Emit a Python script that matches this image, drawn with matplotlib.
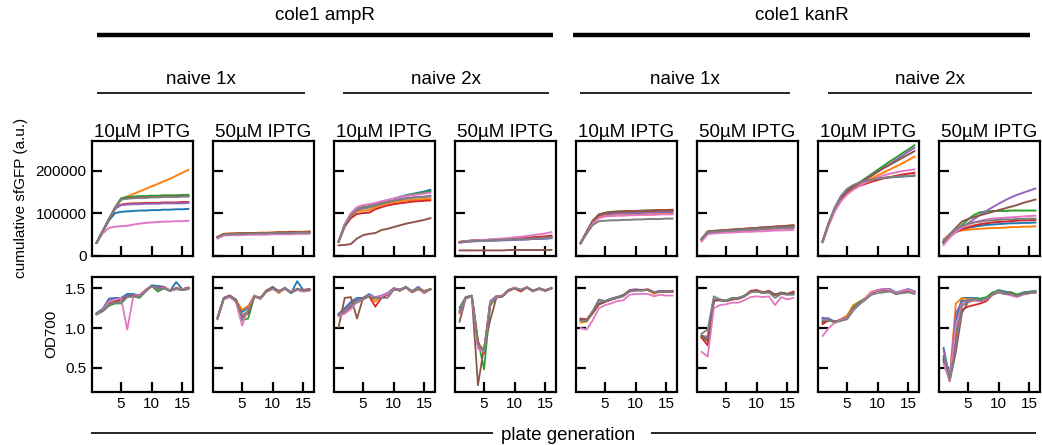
import matplotlib
matplotlib.use('Agg')
import matplotlib.pyplot as plt
from matplotlib.lines import Line2D

plt.rcParams['font.family'] = ['Liberation Sans', 'DejaVu Sans']

generations = list(range(1, 17))
colors = ['tab:blue', 'tab:orange', 'tab:green', 'tab:red',
          'tab:purple', 'tab:brown', 'tab:pink', 'tab:gray']

plasmids = ['cole1 ampR', 'cole1 kanR']
naive_levels = ['naive 1x', 'naive 2x']
iptg_levels = ['10µM IPTG', '50µM IPTG']

# cumulative sfGFP in thousands of a.u., one row per replicate
gfp_amp_1x_10 = [
    [30, 56, 82, 100, 103, 104, 105, 106, 106, 107, 107, 108, 108, 109, 109, 110],
    [30, 57, 84, 111, 133, 139, 145, 151, 157, 163, 169, 175, 181, 188, 195, 202],
    [30, 58, 86, 113, 135, 138, 139, 140, 140, 141, 141, 142, 142, 142, 143, 143],
    [30, 57, 84, 110, 120, 122, 123, 123, 124, 124, 124, 125, 125, 125, 126, 126],
    [30, 57, 84, 110, 119, 120, 121, 121, 122, 122, 122, 123, 123, 123, 123, 124],
    [30, 57, 85, 112, 132, 135, 136, 137, 137, 138, 138, 139, 139, 139, 140, 140],
    [30, 52, 65, 68, 69, 70, 73, 75, 77, 78, 79, 80, 80, 81, 81, 82],
    [30, 57, 85, 112, 132, 134, 135, 136, 136, 137, 137, 138, 138, 138, 139, 139],
]
gfp_amp_1x_50 = [
    [43, 50, 50, 51, 51, 51, 52, 52, 52, 53, 53, 53, 54, 54, 54, 55],
    [44, 51, 52, 52, 53, 53, 53, 54, 54, 54, 55, 55, 56, 56, 56, 57],
    [43, 50, 51, 51, 52, 52, 52, 53, 53, 53, 54, 54, 54, 55, 55, 55],
    [44, 51, 51, 52, 52, 52, 53, 53, 53, 54, 54, 54, 55, 55, 55, 56],
    [42, 49, 50, 50, 50, 51, 51, 51, 52, 52, 52, 53, 53, 53, 53, 54],
    [43, 50, 51, 51, 52, 52, 52, 53, 53, 53, 54, 54, 54, 55, 55, 55],
    [40, 47, 48, 48, 48, 49, 49, 49, 49, 50, 50, 50, 50, 51, 51, 51],
    [43, 50, 50, 51, 51, 51, 52, 52, 52, 53, 53, 53, 53, 54, 54, 54],
]
gfp_amp_2x_10 = [
    [33, 72, 96, 110, 114, 116, 121, 126, 130, 134, 138, 142, 145, 148, 151, 155],
    [33, 70, 92, 104, 106, 107, 114, 119, 123, 126, 128, 130, 131, 132, 133, 134],
    [33, 72, 96, 110, 114, 116, 121, 125, 129, 133, 137, 141, 144, 146, 149, 151],
    [32, 68, 88, 98, 100, 101, 109, 114, 118, 121, 123, 125, 127, 128, 129, 130],
    [33, 71, 95, 108, 112, 114, 119, 123, 127, 130, 133, 135, 137, 138, 139, 141],
    [24, 25, 27, 40, 48, 51, 53, 60, 63, 67, 71, 75, 78, 81, 84, 88],
    [33, 74, 100, 114, 119, 121, 124, 128, 131, 134, 137, 140, 142, 144, 146, 148],
    [33, 71, 94, 107, 111, 113, 118, 122, 126, 129, 132, 134, 136, 137, 138, 139],
]
gfp_amp_2x_50 = [
    [31, 33, 34, 34, 35, 35, 36, 36, 37, 37, 38, 38, 39, 39, 40, 41],
    [32, 34, 35, 35, 36, 36, 37, 37, 38, 38, 39, 40, 40, 41, 42, 43],
    [32, 34, 35, 35, 36, 37, 37, 38, 39, 39, 40, 41, 42, 43, 44, 45],
    [32, 34, 35, 36, 36, 37, 38, 38, 39, 40, 41, 42, 43, 44, 45, 47],
    [30, 32, 33, 34, 34, 35, 35, 36, 36, 37, 37, 38, 39, 39, 40, 41],
    [12, 12, 12, 12, 12, 12, 12, 12, 13, 13, 13, 13, 13, 13, 13, 13],
    [31, 34, 35, 36, 37, 38, 39, 40, 41, 43, 44, 46, 48, 50, 52, 55],
    [31, 33, 34, 35, 35, 36, 36, 37, 38, 38, 39, 40, 40, 41, 42, 43],
]
gfp_kan_1x_10 = [
    [29, 55, 80, 94, 97, 98, 99, 99, 100, 100, 100, 101, 101, 101, 102, 102],
    [29, 54, 78, 90, 93, 94, 95, 95, 96, 96, 97, 97, 97, 98, 98, 98],
    [29, 56, 82, 97, 101, 103, 104, 104, 105, 105, 106, 106, 107, 107, 107, 108],
    [29, 56, 82, 96, 100, 102, 103, 104, 104, 105, 105, 106, 106, 107, 107, 107],
    [29, 55, 80, 95, 98, 99, 100, 100, 101, 101, 102, 102, 102, 103, 103, 103],
    [29, 56, 81, 96, 100, 102, 103, 103, 104, 104, 105, 105, 105, 106, 106, 106],
    [28, 53, 76, 88, 92, 93, 94, 94, 95, 95, 96, 96, 96, 97, 97, 97],
    [29, 52, 72, 81, 82, 83, 83, 84, 84, 85, 85, 86, 86, 86, 87, 87],
]
gfp_kan_1x_50 = [
    [37, 54, 55, 56, 57, 58, 59, 60, 60, 61, 62, 63, 64, 64, 65, 66],
    [36, 53, 54, 55, 56, 57, 58, 59, 60, 61, 62, 62, 63, 64, 65, 66],
    [38, 55, 57, 58, 59, 60, 61, 62, 63, 64, 65, 66, 67, 67, 68, 69],
    [39, 56, 58, 59, 60, 61, 62, 63, 64, 65, 66, 67, 68, 69, 70, 71],
    [37, 54, 55, 56, 57, 58, 59, 60, 61, 61, 62, 63, 64, 65, 65, 66],
    [39, 57, 58, 59, 60, 61, 62, 63, 64, 65, 66, 67, 68, 69, 70, 71],
    [33, 50, 52, 53, 54, 54, 55, 56, 56, 57, 57, 58, 59, 59, 60, 60],
    [38, 55, 56, 57, 58, 59, 60, 61, 62, 62, 63, 64, 65, 66, 66, 67],
]
gfp_kan_2x_10 = [
    [33, 77, 113, 140, 156, 165, 171, 175, 178, 181, 183, 184, 185, 186, 187, 188],
    [33, 75, 110, 136, 152, 161, 168, 175, 182, 189, 196, 203, 210, 217, 225, 233],
    [33, 75, 110, 136, 152, 163, 172, 182, 192, 202, 212, 222, 231, 241, 250, 260],
    [32, 73, 107, 132, 148, 157, 164, 169, 174, 178, 182, 185, 188, 191, 193, 195],
    [33, 75, 110, 136, 152, 162, 171, 180, 189, 198, 207, 216, 226, 235, 245, 254],
    [33, 75, 110, 136, 152, 162, 171, 180, 188, 197, 206, 214, 222, 230, 238, 246],
    [31, 71, 104, 128, 144, 155, 164, 172, 178, 184, 189, 193, 196, 199, 201, 203],
    [33, 77, 113, 140, 157, 166, 172, 176, 179, 181, 183, 185, 186, 187, 188, 189],
]
gfp_kan_2x_50 = [
    [33, 48, 56, 61, 65, 68, 70, 72, 73, 74, 75, 76, 76, 77, 77, 78],
    [38, 50, 56, 59, 61, 62, 63, 64, 65, 65, 66, 67, 67, 68, 68, 69],
    [33, 45, 58, 72, 85, 96, 102, 104, 105, 105, 105, 106, 106, 106, 106, 106],
    [30, 45, 55, 62, 67, 71, 74, 76, 78, 79, 80, 81, 82, 83, 83, 84],
    [30, 45, 55, 66, 76, 86, 96, 105, 114, 122, 130, 137, 143, 148, 153, 158],
    [30, 50, 65, 80, 86, 91, 95, 99, 103, 107, 111, 115, 119, 124, 128, 132],
    [25, 42, 56, 66, 73, 78, 82, 85, 87, 88, 89, 90, 91, 92, 93, 94],
    [35, 50, 62, 70, 75, 78, 80, 82, 83, 84, 85, 85, 86, 86, 87, 87],
]

# OD700 per plate generation, one row per replicate
od_amp_1x_10 = [
    [1.19, 1.24, 1.37, 1.38, 1.38, 1.43, 1.43, 1.40, 1.47, 1.54, 1.53, 1.52, 1.47, 1.58, 1.49, 1.51],
    [1.18, 1.22, 1.31, 1.34, 1.37, 1.40, 1.41, 1.41, 1.47, 1.53, 1.50, 1.51, 1.47, 1.51, 1.48, 1.50],
    [1.17, 1.21, 1.28, 1.31, 1.31, 1.39, 1.40, 1.38, 1.46, 1.53, 1.46, 1.50, 1.47, 1.49, 1.48, 1.49],
    [1.18, 1.23, 1.30, 1.33, 1.36, 1.40, 1.41, 1.41, 1.48, 1.53, 1.50, 1.52, 1.47, 1.50, 1.49, 1.51],
    [1.18, 1.23, 1.35, 1.36, 1.37, 1.41, 1.42, 1.41, 1.47, 1.53, 1.50, 1.51, 1.47, 1.50, 1.49, 1.50],
    [1.17, 1.22, 1.30, 1.33, 1.35, 1.40, 1.41, 1.40, 1.47, 1.53, 1.49, 1.51, 1.47, 1.50, 1.48, 1.50],
    [1.17, 1.22, 1.33, 1.36, 1.38, 0.98, 1.40, 1.40, 1.47, 1.53, 1.49, 1.51, 1.47, 1.49, 1.49, 1.50],
    [1.18, 1.22, 1.29, 1.32, 1.32, 1.39, 1.40, 1.39, 1.46, 1.53, 1.49, 1.50, 1.47, 1.50, 1.48, 1.50],
]
od_amp_1x_50 = [
    [1.14, 1.38, 1.41, 1.36, 1.20, 1.26, 1.40, 1.38, 1.47, 1.52, 1.46, 1.50, 1.44, 1.59, 1.48, 1.49],
    [1.13, 1.37, 1.40, 1.35, 1.23, 1.28, 1.41, 1.38, 1.48, 1.50, 1.44, 1.50, 1.45, 1.50, 1.47, 1.48],
    [1.12, 1.37, 1.40, 1.34, 1.10, 1.12, 1.40, 1.37, 1.46, 1.50, 1.46, 1.50, 1.44, 1.49, 1.47, 1.48],
    [1.13, 1.38, 1.41, 1.35, 1.16, 1.20, 1.40, 1.38, 1.47, 1.51, 1.47, 1.50, 1.45, 1.49, 1.48, 1.49],
    [1.12, 1.38, 1.40, 1.34, 1.12, 1.22, 1.41, 1.37, 1.47, 1.50, 1.46, 1.51, 1.45, 1.48, 1.47, 1.48],
    [1.12, 1.37, 1.40, 1.35, 1.14, 1.18, 1.40, 1.37, 1.47, 1.50, 1.46, 1.50, 1.45, 1.49, 1.47, 1.48],
    [1.11, 1.36, 1.39, 1.33, 1.03, 1.24, 1.41, 1.37, 1.46, 1.49, 1.46, 1.49, 1.46, 1.48, 1.46, 1.47],
    [1.12, 1.37, 1.40, 1.34, 1.15, 1.22, 1.40, 1.38, 1.46, 1.50, 1.46, 1.50, 1.45, 1.49, 1.47, 1.48],
]
od_amp_2x_10 = [
    [1.18, 1.25, 1.33, 1.38, 1.38, 1.43, 1.38, 1.40, 1.44, 1.50, 1.48, 1.51, 1.46, 1.52, 1.46, 1.49],
    [1.17, 1.22, 1.29, 1.34, 1.37, 1.41, 1.33, 1.40, 1.42, 1.50, 1.48, 1.51, 1.46, 1.50, 1.47, 1.49],
    [1.16, 1.20, 1.28, 1.32, 1.36, 1.40, 1.38, 1.40, 1.42, 1.49, 1.48, 1.52, 1.46, 1.49, 1.46, 1.49],
    [1.17, 1.20, 1.27, 1.33, 1.37, 1.40, 1.27, 1.38, 1.42, 1.49, 1.47, 1.51, 1.45, 1.49, 1.46, 1.49],
    [1.18, 1.23, 1.31, 1.36, 1.37, 1.41, 1.39, 1.41, 1.44, 1.50, 1.49, 1.51, 1.47, 1.51, 1.45, 1.49],
    [1.01, 1.38, 1.39, 1.12, 1.38, 1.40, 1.37, 1.40, 1.43, 1.50, 1.47, 1.52, 1.46, 1.50, 1.44, 1.49],
    [1.15, 1.18, 1.24, 1.33, 1.36, 1.41, 1.38, 1.40, 1.43, 1.49, 1.48, 1.51, 1.46, 1.50, 1.45, 1.49],
    [1.16, 1.21, 1.28, 1.34, 1.37, 1.40, 1.38, 1.38, 1.38, 1.48, 1.48, 1.51, 1.46, 1.50, 1.46, 1.49],
]
od_amp_2x_50 = [
    [1.22, 1.38, 1.40, 0.80, 0.72, 1.30, 1.40, 1.40, 1.48, 1.50, 1.48, 1.51, 1.47, 1.50, 1.47, 1.50],
    [1.20, 1.38, 1.41, 0.82, 0.70, 1.32, 1.40, 1.41, 1.48, 1.51, 1.48, 1.52, 1.47, 1.50, 1.47, 1.50],
    [1.26, 1.39, 1.41, 0.85, 0.48, 1.28, 1.39, 1.40, 1.48, 1.50, 1.47, 1.51, 1.46, 1.50, 1.47, 1.51],
    [1.20, 1.38, 1.40, 0.82, 0.68, 1.33, 1.40, 1.40, 1.47, 1.50, 1.46, 1.51, 1.47, 1.49, 1.47, 1.50],
    [1.22, 1.39, 1.40, 0.75, 0.72, 1.34, 1.40, 1.41, 1.48, 1.51, 1.48, 1.51, 1.47, 1.50, 1.47, 1.50],
    [1.08, 1.38, 1.40, 0.28, 0.76, 1.10, 1.38, 1.40, 1.47, 1.50, 1.48, 1.51, 1.47, 1.50, 1.48, 1.50],
    [1.18, 1.37, 1.40, 0.74, 0.70, 1.32, 1.39, 1.41, 1.48, 1.51, 1.48, 1.51, 1.47, 1.50, 1.47, 1.50],
    [1.20, 1.38, 1.40, 0.80, 0.71, 1.30, 1.40, 1.40, 1.48, 1.50, 1.48, 1.51, 1.47, 1.50, 1.47, 1.50],
]
od_kan_1x_10 = [
    [1.10, 1.10, 1.20, 1.35, 1.34, 1.37, 1.39, 1.41, 1.47, 1.48, 1.48, 1.48, 1.45, 1.47, 1.46, 1.47],
    [1.07, 1.08, 1.19, 1.30, 1.33, 1.36, 1.39, 1.41, 1.47, 1.48, 1.48, 1.48, 1.43, 1.46, 1.46, 1.46],
    [1.10, 1.09, 1.20, 1.31, 1.34, 1.37, 1.39, 1.42, 1.47, 1.48, 1.48, 1.48, 1.45, 1.46, 1.46, 1.46],
    [1.12, 1.11, 1.21, 1.30, 1.33, 1.36, 1.38, 1.41, 1.47, 1.48, 1.48, 1.49, 1.45, 1.46, 1.46, 1.46],
    [1.11, 1.10, 1.20, 1.31, 1.34, 1.37, 1.39, 1.41, 1.48, 1.49, 1.48, 1.48, 1.45, 1.47, 1.46, 1.47],
    [1.11, 1.10, 1.19, 1.30, 1.33, 1.36, 1.38, 1.41, 1.47, 1.48, 1.48, 1.48, 1.45, 1.46, 1.46, 1.46],
    [1.00, 0.98, 1.10, 1.25, 1.29, 1.31, 1.34, 1.35, 1.42, 1.43, 1.43, 1.43, 1.40, 1.42, 1.41, 1.41],
    [1.09, 1.09, 1.22, 1.36, 1.34, 1.36, 1.38, 1.40, 1.46, 1.47, 1.47, 1.48, 1.45, 1.46, 1.46, 1.46],
]
od_kan_1x_50 = [
    [0.90, 0.87, 1.36, 1.35, 1.34, 1.37, 1.38, 1.40, 1.46, 1.47, 1.45, 1.46, 1.42, 1.44, 1.43, 1.44],
    [0.88, 0.90, 1.35, 1.36, 1.34, 1.36, 1.37, 1.40, 1.45, 1.46, 1.45, 1.46, 1.41, 1.44, 1.42, 1.45],
    [0.89, 0.86, 1.35, 1.35, 1.35, 1.38, 1.38, 1.41, 1.46, 1.47, 1.44, 1.45, 1.42, 1.45, 1.43, 1.43],
    [0.88, 0.78, 1.34, 1.36, 1.34, 1.36, 1.37, 1.40, 1.47, 1.48, 1.45, 1.47, 1.42, 1.44, 1.43, 1.46],
    [0.91, 0.88, 1.36, 1.35, 1.34, 1.37, 1.38, 1.40, 1.46, 1.47, 1.45, 1.46, 1.42, 1.44, 1.43, 1.44],
    [0.90, 0.83, 1.35, 1.35, 1.34, 1.37, 1.37, 1.40, 1.46, 1.47, 1.45, 1.46, 1.42, 1.44, 1.43, 1.45],
    [0.70, 0.64, 1.25, 1.29, 1.30, 1.32, 1.32, 1.35, 1.39, 1.40, 1.39, 1.40, 1.29, 1.39, 1.36, 1.38],
    [0.93, 0.98, 1.40, 1.36, 1.34, 1.37, 1.38, 1.40, 1.45, 1.46, 1.44, 1.45, 1.38, 1.43, 1.42, 1.42],
]
od_kan_2x_10 = [
    [1.12, 1.12, 1.08, 1.10, 1.13, 1.23, 1.31, 1.37, 1.44, 1.48, 1.49, 1.49, 1.45, 1.47, 1.49, 1.46],
    [1.06, 1.10, 1.08, 1.11, 1.16, 1.29, 1.33, 1.38, 1.46, 1.47, 1.49, 1.48, 1.43, 1.47, 1.48, 1.45],
    [1.07, 1.09, 1.08, 1.10, 1.13, 1.26, 1.33, 1.37, 1.44, 1.48, 1.48, 1.49, 1.44, 1.46, 1.48, 1.46],
    [1.05, 1.10, 1.08, 1.10, 1.12, 1.24, 1.31, 1.37, 1.44, 1.48, 1.48, 1.48, 1.43, 1.46, 1.47, 1.45],
    [1.13, 1.12, 1.07, 1.11, 1.13, 1.24, 1.31, 1.37, 1.45, 1.48, 1.49, 1.49, 1.44, 1.47, 1.49, 1.46],
    [1.08, 1.10, 1.08, 1.10, 1.12, 1.23, 1.30, 1.36, 1.44, 1.47, 1.47, 1.48, 1.43, 1.46, 1.47, 1.44],
    [0.90, 1.00, 1.07, 1.10, 1.12, 1.23, 1.30, 1.37, 1.45, 1.48, 1.49, 1.48, 1.44, 1.47, 1.48, 1.45],
    [1.10, 1.10, 1.07, 1.09, 1.11, 1.22, 1.30, 1.36, 1.42, 1.44, 1.45, 1.46, 1.43, 1.44, 1.45, 1.43],
]
od_kan_2x_50 = [
    [0.75, 0.37, 1.10, 1.38, 1.38, 1.38, 1.37, 1.38, 1.44, 1.48, 1.46, 1.45, 1.42, 1.45, 1.46, 1.47],
    [0.62, 0.38, 1.31, 1.38, 1.36, 1.37, 1.35, 1.37, 1.43, 1.46, 1.44, 1.44, 1.41, 1.44, 1.45, 1.46],
    [0.60, 0.36, 0.95, 1.35, 1.33, 1.37, 1.37, 1.39, 1.45, 1.47, 1.45, 1.45, 1.42, 1.44, 1.45, 1.46],
    [0.62, 0.35, 0.85, 1.23, 1.27, 1.29, 1.31, 1.34, 1.42, 1.46, 1.43, 1.44, 1.40, 1.43, 1.44, 1.45],
    [0.72, 0.34, 1.19, 1.33, 1.35, 1.36, 1.35, 1.37, 1.43, 1.46, 1.44, 1.43, 1.40, 1.43, 1.44, 1.45],
    [0.58, 0.33, 0.70, 1.19, 1.33, 1.35, 1.34, 1.36, 1.42, 1.45, 1.43, 1.43, 1.40, 1.43, 1.44, 1.45],
    [0.55, 0.34, 1.02, 1.30, 1.33, 1.35, 1.34, 1.36, 1.42, 1.46, 1.43, 1.41, 1.39, 1.42, 1.44, 1.45],
    [0.65, 0.36, 0.78, 1.28, 1.33, 1.36, 1.35, 1.37, 1.42, 1.45, 1.43, 1.43, 1.40, 1.43, 1.44, 1.45],
]

gfp_panels = [gfp_amp_1x_10, gfp_amp_1x_50, gfp_amp_2x_10, gfp_amp_2x_50,
              gfp_kan_1x_10, gfp_kan_1x_50, gfp_kan_2x_10, gfp_kan_2x_50]
od_panels = [od_amp_1x_10, od_amp_1x_50, od_amp_2x_10, od_amp_2x_50,
             od_kan_1x_10, od_kan_1x_50, od_kan_2x_10, od_kan_2x_50]

W, H = 1042, 445
fig = plt.figure(figsize=(W / 100, H / 100), dpi=100)


def box(left, top, width, height):
    # pixel box -> figure fraction
    return [left / W, 1 - (top + height) / H, width / W, height / H]


def style(ax):
    for sp in ax.spines.values():
        sp.set_linewidth(1.6)
    ax.tick_params(direction='in', length=7, width=1.6, labelsize=11, pad=4)
    ax.set_xlim(0.25, 16.75)
    ax.set_xticks([5, 10, 15])


col_left = [92 + 121 * i for i in range(8)]
for i in range(8):
    ax_top = fig.add_axes(box(col_left[i], 141, 101, 114.5))
    ax_bot = fig.add_axes(box(col_left[i], 276.5, 101, 115))
    for reps, c in zip(gfp_panels[i], colors):
        ax_top.plot(generations, [v * 1000 for v in reps], color=c, lw=1.4)
    for reps, c in zip(od_panels[i], colors):
        ax_bot.plot(generations, reps, color=c, lw=1.3)
    style(ax_top)
    style(ax_bot)
    ax_top.set_ylim(0, 270000)
    ax_top.set_yticks([0, 100000, 200000])
    ax_bot.set_ylim(0.2, 1.65)
    ax_bot.set_yticks([0.5, 1.0, 1.5])
    ax_top.set_xticklabels([])
    ax_top.set_title(iptg_levels[i % 2], fontsize=13.5, pad=3)
    if i == 0:
        ax_top.set_ylabel('cumulative sfGFP (a.u.)', fontsize=11, labelpad=5)
        ax_bot.set_ylabel('OD700', fontsize=11, labelpad=5)
    else:
        ax_top.set_yticklabels([])
        ax_bot.set_yticklabels([])


def hline(x0, x1, y, lw):
    fig.add_artist(Line2D([x0 / W, x1 / W], [1 - y / H, 1 - y / H],
                          color='black', lw=lw, solid_capstyle='butt'))


# plasmid headers
for (x0, x1), name in zip([(97, 553), (573, 1030)], plasmids):
    hline(x0, x1, 35, 3.2)
    fig.text((x0 + x1) / 2 / W, 1 - 15 / H, name, fontsize=13.5,
             ha='center', va='center')

# naive headers
naive_spans = [(97, 305), (343, 549), (580, 790), (828, 1032)]
for j, (x0, x1) in enumerate(naive_spans):
    hline(x0, x1, 93, 1.2)
    fig.text((x0 + x1) / 2 / W, 1 - 80 / H, naive_levels[j % 2], fontsize=13.5,
             ha='center', va='center')

# shared x label
hline(91, 493, 433, 1.2)
hline(651, 1036, 433, 1.2)
fig.text(568 / W, 1 - 436 / H, 'plate generation', fontsize=13.5,
         ha='center', va='center')

fig.savefig('out.png', dpi=100)
